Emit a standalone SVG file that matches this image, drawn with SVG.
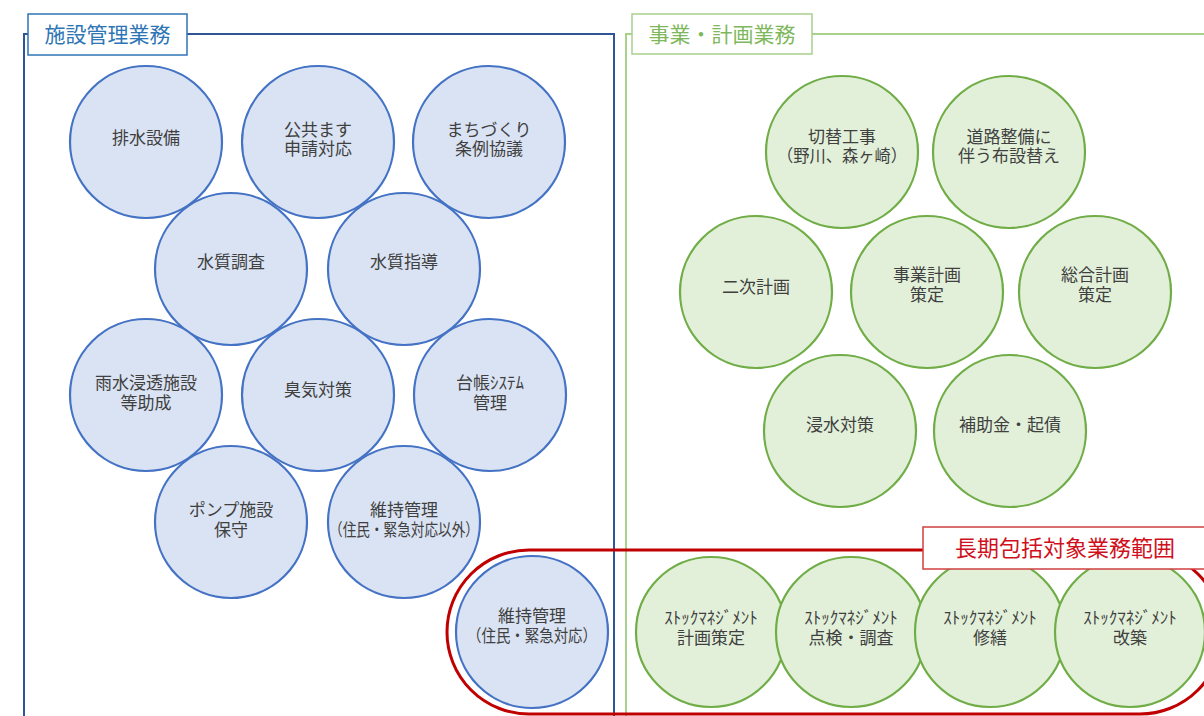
<svg xmlns="http://www.w3.org/2000/svg" width="1204" height="716" viewBox="0 0 1204 716">
<style>
text{font-family:"Noto Sans CJK JP","Noto Sans",sans-serif;}
.t{font-size:17px;fill:#404040;text-anchor:middle;}
.bc{fill:#dae3f3;stroke:#4472c4;stroke-width:2.2;}
.gc{fill:#e2f0d9;stroke:#70ad47;stroke-width:2.2;}
.bf{fill:none;stroke:#2f5597;stroke-width:2;}
.gf{fill:none;stroke:#a9d18e;stroke-width:2;}
</style>
<rect x="0" y="0" width="1204" height="716" fill="#ffffff"/>
<g id="frame-left">
<path class="bf" d="M24,720 V34 H614 V720"/>
<rect x="28" y="14" width="159" height="41" fill="#ffffff" stroke="#2e75b6" stroke-width="1.5"/>
<text x="107.5" y="42" style="font-size:21px;fill:#2e75b6;text-anchor:middle">施設管理業務</text>
</g>
<g id="frame-right">
<path class="gf" d="M626,720 V34 H1210"/>
<rect x="632" y="14" width="180" height="40" fill="#ffffff" stroke="#a9d18e" stroke-width="1.5"/>
<text x="722" y="42" style="font-size:21px;fill:#7fb85c;text-anchor:middle">事業・計画業務</text>
</g>
<g id="scope-range">
<rect x="447" y="550" width="775" height="164" rx="82" ry="82" fill="none" stroke="#c00000" stroke-width="3"/>
</g>
<g id="b1"><circle class="bc" cx="146" cy="142" r="76"/><text class="t" x="146" y="144">排水設備</text></g>
<g id="b2"><circle class="bc" cx="318" cy="142" r="76"/><text class="t" x="318" y="136">公共ます</text><text class="t" x="318" y="155">申請対応</text></g>
<g id="b3"><circle class="bc" cx="489" cy="142" r="76"/><text class="t" x="489" y="136">まちづくり</text><text class="t" x="489" y="155">条例協議</text></g>
<g id="b4"><circle class="bc" cx="231" cy="269" r="76"/><text class="t" x="231" y="268">水質調査</text></g>
<g id="b5"><circle class="bc" cx="404" cy="269" r="76"/><text class="t" x="404" y="268">水質指導</text></g>
<g id="b6"><circle class="bc" cx="146" cy="395" r="76"/><text class="t" x="146" y="389">雨水浸透施設</text><text class="t" x="146" y="409">等助成</text></g>
<g id="b7"><circle class="bc" cx="318" cy="395" r="76"/><text class="t" x="318" y="396">臭気対策</text></g>
<g id="b8"><circle class="bc" cx="490" cy="395" r="76"/><text class="t" x="490" y="389">台帳ｼｽﾃﾑ</text><text class="t" x="490" y="409">管理</text></g>
<g id="b9"><circle class="bc" cx="231" cy="522" r="76"/><text class="t" x="231" y="516">ポンプ施設</text><text class="t" x="231" y="536">保守</text></g>
<g id="b10"><circle class="bc" cx="404" cy="522" r="76"/><text class="t" x="404" y="516">維持管理</text><text class="t" x="404" y="536" textLength="150" lengthAdjust="spacingAndGlyphs">（住民・緊急対応以外）</text></g>
<g id="b11"><circle class="bc" cx="532" cy="632" r="76"/><text class="t" x="532" y="622">維持管理</text><text class="t" x="532" y="642" textLength="130" lengthAdjust="spacingAndGlyphs">（住民・緊急対応）</text></g>
<g id="g1"><circle class="gc" cx="842" cy="152" r="76"/><text class="t" x="842" y="143">切替工事</text><text class="t" x="842" y="162" textLength="130" lengthAdjust="spacingAndGlyphs">（野川、森ヶ崎）</text></g>
<g id="g2"><circle class="gc" cx="1009" cy="152" r="76"/><text class="t" x="1009" y="143">道路整備に</text><text class="t" x="1009" y="162">伴う布設替え</text></g>
<g id="g3"><circle class="gc" cx="756" cy="292" r="76"/><text class="t" x="756" y="293">二次計画</text></g>
<g id="g4"><circle class="gc" cx="927" cy="292" r="76"/><text class="t" x="927" y="281">事業計画</text><text class="t" x="927" y="301">策定</text></g>
<g id="g5"><circle class="gc" cx="1095" cy="292" r="76"/><text class="t" x="1095" y="281">総合計画</text><text class="t" x="1095" y="301">策定</text></g>
<g id="g6"><circle class="gc" cx="840" cy="431" r="76"/><text class="t" x="840" y="431">浸水対策</text></g>
<g id="g7"><circle class="gc" cx="1010" cy="431" r="76"/><text class="t" x="1010" y="431">補助金・起債</text></g>
<g id="g8"><circle class="gc" cx="711" cy="632" r="75"/><text class="t" x="711" y="624">ｽﾄｯｸﾏﾈｼﾞﾒﾝﾄ</text><text class="t" x="711" y="644">計画策定</text></g>
<g id="g9"><circle class="gc" cx="851" cy="632" r="75"/><text class="t" x="851" y="624">ｽﾄｯｸﾏﾈｼﾞﾒﾝﾄ</text><text class="t" x="851" y="644">点検・調査</text></g>
<g id="g10"><circle class="gc" cx="990" cy="632" r="75"/><text class="t" x="990" y="624">ｽﾄｯｸﾏﾈｼﾞﾒﾝﾄ</text><text class="t" x="990" y="644">修繕</text></g>
<g id="g11"><circle class="gc" cx="1130" cy="632" r="75"/><text class="t" x="1130" y="624">ｽﾄｯｸﾏﾈｼﾞﾒﾝﾄ</text><text class="t" x="1130" y="644">改築</text></g>
<g id="scope-label">
<rect x="923" y="527" width="284" height="42" fill="#ffffff" stroke="#d04040" stroke-width="1.5"/>
<text x="1065" y="556" style="font-size:22px;fill:#d0101c;text-anchor:middle">長期包括対象業務範囲</text>
</g>
</svg>
